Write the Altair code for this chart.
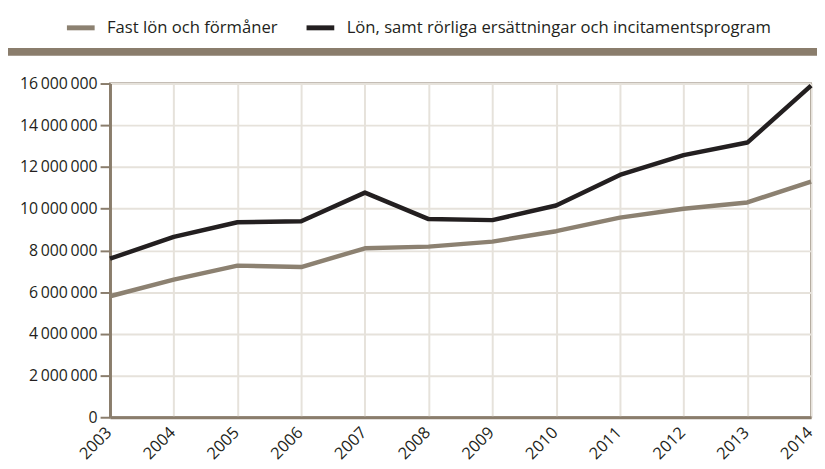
import altair as alt
import pandas as pd

years = [2003, 2004, 2005, 2006, 2007, 2008, 2009, 2010, 2011, 2012, 2013, 2014]
fast = [5800000, 6600000, 7270000, 7200000, 8100000, 8180000, 8420000, 8920000, 9570000, 10000000, 10300000, 11300000]
total = [7600000, 8650000, 9350000, 9400000, 10770000, 9500000, 9450000, 10150000, 11620000, 12570000, 13170000, 15900000]
series = ["Fast lön och förmåner", "Lön, samt rörliga ersättningar och incitamentsprogram"]
colors = ["#8c8171", "#231f20"]
y_ticks = [0, 2000000, 4000000, 6000000, 8000000, 10000000, 12000000, 14000000, 16000000]

rows = []
for i, yr in enumerate(years):
    rows.append({"year": str(yr), "value": fast[i], "series": series[0]})
    rows.append({"year": str(yr), "value": total[i], "series": series[1]})
df = pd.DataFrame(rows)

FONT = "Open Sans"
AXIS_COLOR = "#8a7d6c"
GRID_COLOR = "#e6e2db"

lines = alt.Chart(df).mark_line(strokeWidth=4.5, strokeJoin="round", strokeCap="butt").encode(
    x=alt.X("year:O", scale=alt.Scale(type="point", padding=0),
            axis=alt.Axis(title=None, labelAngle=-45, grid=True, gridColor=GRID_COLOR,
                          gridWidth=2, ticks=False, labelPadding=7, labelFontSize=16.5,
                          labelOffset=-7, labelColor="#231f20", domainColor=AXIS_COLOR,
                          domainWidth=3)),
    y=alt.Y("value:Q", scale=alt.Scale(domain=[0, 16000000], nice=False),
            axis=alt.Axis(title=None, values=y_ticks, format=",d", grid=True,
                          gridColor=GRID_COLOR, gridWidth=2, tickSize=10, tickColor=AXIS_COLOR,
                          tickWidth=2, labelPadding=3, labelFontSize=16, labelColor="#231f20",
                          domainColor=AXIS_COLOR, domainWidth=3)),
    color=alt.Color("series:N", scale=alt.Scale(domain=series, range=colors),
                    sort=series,
                    legend=alt.Legend(title=None, orient="none", direction="horizontal",
                                      legendX=-46, legendY=-73, symbolType="stroke",
                                      symbolStrokeWidth=5, symbolSize=784, labelFontSize=16.8,
                                      labelFont=FONT, labelColor="#231f20", labelOffset=10,
                                      labelLimit=800, columnPadding=18)),
)

band = alt.Chart(pd.DataFrame({"a": [0]})).mark_rule(color=AXIS_COLOR, strokeWidth=8).encode(
    x=alt.value(-108), x2=alt.value(714), y=alt.value(-32)
)

chart = alt.layer(band, lines).properties(
    width=708, height=337,
    autosize=alt.AutoSizeParams(type="none"),
    padding={"left": 103, "top": 74, "right": 6, "bottom": 50},
).configure(
    locale={"number": {"decimal": ",", "thousands": "\u2009", "grouping": [3], "currency": ["", " kr"]}},
).configure_view(
    stroke=AXIS_COLOR, strokeWidth=2
).configure_axis(
    labelFont=FONT
).configure_legend(
    labelFont=FONT
)

chart.save("out.html", embed_options={"renderer": "svg", "actions": False})
